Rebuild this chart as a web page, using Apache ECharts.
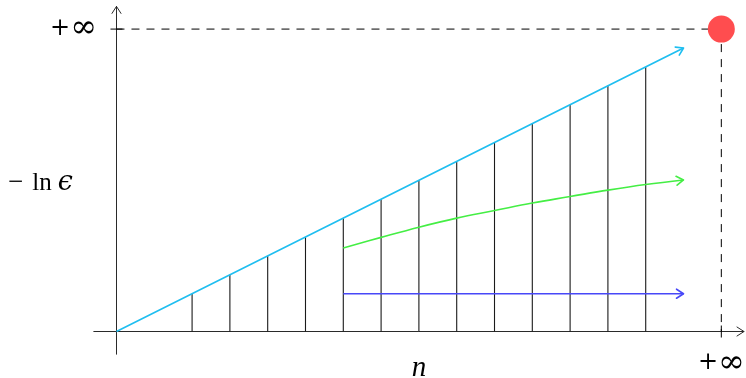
<!DOCTYPE html>
<html><head><meta charset="utf-8">
<script src="https://cdn.jsdelivr.net/npm/echarts@6/dist/echarts.min.js"></script>
<style>html,body{margin:0;padding:0;background:#fff}#c{width:746px;height:378px}</style>
</head><body><div id="c"></div>
<script>
// ---- data ----
const cyanX = [0, 15];
const cyanY = [0, 7.5];
const stemX = [2, 3, 4, 5, 6, 7, 8, 9, 10, 11, 12, 13, 14];
const stemY = [1, 1.5, 2, 2.5, 3, 3.5, 4, 4.5, 5, 5.5, 6, 6.5, 7];
const greenX = [6, 7, 8, 9, 10, 11, 12, 13, 14, 15];
const greenY = [2.21, 2.49, 2.76, 3.0, 3.2, 3.4, 3.57, 3.74, 3.89, 4.01];
const blueX = [6, 15];
const blueY = [1, 1];
const limitX = [16];
const limitY = [8];
const xTickValues = [16];
const xTickLabels = ['+∞'];
const yTickValues = [8, 3.92];
const yTickLabels = ['+∞', '−ln ϵ'];
const xName = 'n';
const xRange = [-0.6, 16.6];
const yRange = [-0.6, 8.6];

const SERIF = 'Liberation Serif';
const DJ = 'DejaVu Serif';
const zip = (a, b) => a.map((v, i) => [v, b[i]]);

const chart = echarts.init(document.getElementById('c'), null, {renderer: 'canvas'});

function arrowItem(color, width) {
  return function (params, api) {
    const p1 = api.coord([api.value(0), api.value(1)]);
    const p2 = api.coord([api.value(2), api.value(3)]);
    let dx = p2[0] - p1[0], dy = p2[1] - p1[1];
    const len = Math.hypot(dx, dy); dx /= len; dy /= len;
    const L = 7, W = 4.5;
    const nx = -dy, ny = dx;
    return {
      type: 'polyline',
      shape: {points: [
        [p2[0] - L * dx + W * nx, p2[1] - L * dy + W * ny],
        p2,
        [p2[0] - L * dx - W * nx, p2[1] - L * dy - W * ny]
      ]},
      style: {stroke: color, lineWidth: width, fill: null, lineCap: 'round', lineJoin: 'round'}
    };
  };
}
const lastSeg = (xs, ys) => [[xs[xs.length - 2], ys[ys.length - 2], xs[xs.length - 1], ys[ys.length - 1]]];

function richInf(label) {
  return label.replace('+', '{pl|+}').replace('∞', '{inf|∞}');
}
function richLn(label) {
  const m = label.match(/^(−)(ln) (.)$/);
  return '{mi|' + m[1] + '}{t|' + m[2] + '}{ep|' + m[3] + '}';
}
const richStyles = {
  pl: {fontFamily: DJ, fontSize: 24, color: '#000'},
  inf: {fontFamily: DJ, fontSize: 32, color: '#000'},
  mi: {fontFamily: SERIF, fontSize: 27, color: '#000', padding: [0, 9, 0, 0]},
  t: {fontFamily: SERIF, fontSize: 25, color: '#000', padding: [0, 6, 0, 0]},
  ep: {fontFamily: DJ, fontStyle: 'italic', fontSize: 27, color: '#000', padding: [0, 24, 0, 0]}
};

const CYAN = '#1ebef0', GREEN = '#44ee44', BLUE = '#4848f8', RED = '#ff4d4f', AX = '#2a2a2a';

chart.setOption({
  animation: false,
  grid: {left: 93.8, right: 2, top: 6.4, bottom: 23.8, outerBoundsMode: 'none', containLabel: false},
  xAxis: {
    type: 'value', min: xRange[0], max: xRange[1],
    axisLine: {show: true, onZero: true, lineStyle: {color: AX, width: 1}},
    axisTick: {show: false}, splitLine: {show: false},
    axisLabel: {
      customValues: xTickValues,
      formatter: v => richInf(xTickLabels[xTickValues.indexOf(v)] || ''),
      margin: -7, rich: richStyles
    },
    name: xName, nameLocation: 'middle', nameGap: 0, nameMoveOverlap: false,
    nameTextStyle: {fontFamily: SERIF, fontStyle: 'italic', fontSize: 29, color: '#000',
      verticalAlign: 'top'}
  },
  yAxis: {
    type: 'value', min: yRange[0], max: yRange[1],
    axisLine: {show: true, onZero: true, lineStyle: {color: AX, width: 1}},
    axisTick: {show: false}, splitLine: {show: false},
    axisLabel: {
      customValues: yTickValues,
      formatter: v => {
        const i = yTickValues.indexOf(v);
        return i === 0 ? richInf(yTickLabels[i]) : richLn(yTickLabels[i]);
      },
      margin: -3, rich: richStyles
    }
  },
  series: [
    {
      type: 'custom', z: 2, data: zip(stemX, stemY),
      renderItem: (p, api) => {
        const a = api.coord([api.value(0), 0]), b = api.coord([api.value(0), api.value(1)]);
        return {type: 'line', shape: {x1: a[0], y1: a[1], x2: b[0], y2: b[1]},
          style: {stroke: '#1a1a1a', lineWidth: 1.1}};
      }
    },
    {
      type: 'custom', z: 2, data: zip(limitX, limitY),
      renderItem: (p, api) => {
        const c = api.coord([api.value(0), api.value(1)]);
        const o = api.coord([0, 0]);
        return {type: 'group', children: [
          {type: 'line', shape: {x1: o[0], y1: c[1], x2: c[0], y2: c[1]},
            style: {stroke: '#000', lineWidth: 1, lineDash: [8, 7]}},
          {type: 'line', shape: {x1: c[0], y1: c[1], x2: c[0], y2: o[1]},
            style: {stroke: '#000', lineWidth: 1, lineDash: [8, 7]}},
          {type: 'line', shape: {x1: o[0] - 6, y1: c[1], x2: o[0] + 6, y2: c[1]},
            style: {stroke: '#000', lineWidth: 1}},
          {type: 'line', shape: {x1: c[0], y1: o[1] - 6, x2: c[0], y2: o[1] + 6},
            style: {stroke: '#000', lineWidth: 1}}
        ]};
      }
    },
    {type: 'line', z: 3, data: zip(cyanX, cyanY), showSymbol: false, symbol: 'none',
      lineStyle: {color: CYAN, width: 1.6}},
    {type: 'custom', z: 3, data: lastSeg(cyanX, cyanY), renderItem: arrowItem(CYAN, 1.6)},
    {type: 'line', z: 4, data: zip(greenX, greenY), smooth: 0.4, showSymbol: false, symbol: 'none',
      lineStyle: {color: GREEN, width: 1.6}},
    {type: 'custom', z: 4, data: lastSeg(greenX, greenY), renderItem: arrowItem(GREEN, 1.6)},
    {type: 'line', z: 4, data: zip(blueX, blueY), showSymbol: false, symbol: 'none',
      lineStyle: {color: BLUE, width: 1.6}},
    {type: 'custom', z: 4, data: lastSeg(blueX, blueY), renderItem: arrowItem(BLUE, 1.6)},
    {type: 'custom', z: 5, data: [[0, 0, xRange[1], 0]], renderItem: arrowItem(AX, 1)},
    {type: 'custom', z: 5, data: [[0, 0, 0, yRange[1]]], renderItem: arrowItem(AX, 1)},
    {type: 'scatter', z: 6, data: zip(limitX, limitY), symbolSize: 27,
      itemStyle: {color: RED, opacity: 1}}
  ]
});
</script></body></html>
